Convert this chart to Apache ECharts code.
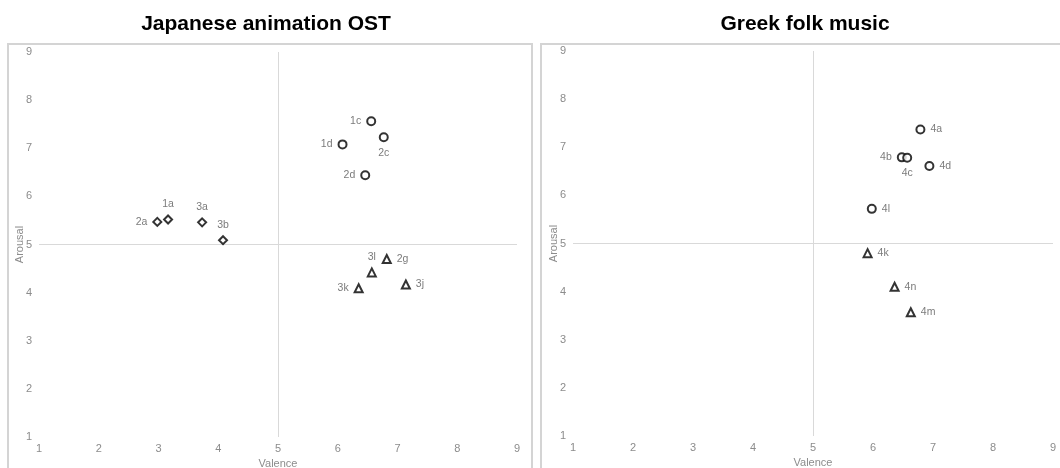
<!DOCTYPE html>
<html>
<head>
<meta charset="utf-8">
<script src="https://cdn.jsdelivr.net/npm/echarts@6/dist/echarts.min.js"></script>
<style>
  html, body { margin: 0; padding: 0; background: #fff; }
  #chart { width: 1060px; height: 468px; }
</style>
</head>
<body>
<div id="chart"></div>
<script>
// Valence / arousal ratings per excerpt, grouped by marker shape.
// Japanese animation OST
const animeDiamondNames = ['1a', '2a', '3a', '3b'];
const animeDiamondValence = [3.16, 2.98, 3.73, 4.08];
const animeDiamondArousal = [5.52, 5.47, 5.46, 5.09];

const animeCircleNames = ['1c', '2c', '1d', '2d'];
const animeCircleValence = [6.56, 6.77, 6.08, 6.46];
const animeCircleArousal = [7.56, 7.23, 7.08, 6.44];

const animeTriangleNames = ['2g', '3l', '3k', '3j'];
const animeTriangleValence = [6.82, 6.57, 6.35, 7.14];
const animeTriangleArousal = [4.70, 4.42, 4.09, 4.17];

// Greek folk music
const greekCircleNames = ['4a', '4b', '4c', '4d', '4l'];
const greekCircleValence = [6.79, 6.48, 6.57, 6.94, 5.98];
const greekCircleArousal = [7.37, 6.79, 6.78, 6.61, 5.72];

const greekTriangleNames = ['4k', '4n', '4m'];
const greekTriangleValence = [5.91, 6.36, 6.63];
const greekTriangleArousal = [4.80, 4.10, 3.57];

const tickValues = [1, 2, 3, 4, 5, 6, 7, 8, 9];
const panelTitles = ['Japanese animation OST', 'Greek folk music'];
const xAxisName = 'Valence';
const yAxisName = 'Arousal';
const midpoint = 5;

// where each point's name sits relative to its marker
const labelSide = {
  '1a': 'top', '2a': 'left', '3a': 'top', '3b': 'top',
  '1c': 'left', '2c': 'bottom', '1d': 'left', '2d': 'left',
  '2g': 'right', '3l': 'top', '3k': 'left', '3j': 'right',
  '4a': 'right', '4b': 'left', '4c': 'bottom', '4d': 'right', '4l': 'right',
  '4k': 'right', '4n': 'right', '4m': 'right'
};

const FONT = '"Liberation Sans", Arial, sans-serif';
const labelColor = '#595959';
const tickColor = '#8c8c8c';

function points(names, xs, ys) {
  return names.map((n, i) => ({
    name: n,
    value: [xs[i], ys[i]],
    label: { position: labelSide[n] }
  }));
}

function scatter(idx, names, xs, ys, symbol, size) {
  return {
    type: 'scatter',
    xAxisIndex: idx,
    yAxisIndex: idx,
    symbol: symbol,
    symbolSize: size,
    itemStyle: { color: '#fff', borderColor: '#000', borderWidth: 2 },
    label: {
      show: true,
      formatter: '{b}',
      color: labelColor,
      fontFamily: FONT,
      fontSize: 10.5,
      distance: 5
    },
    emphasis: { disabled: true },
    data: points(names, xs, ys),
    z: 5
  };
}

function crossLines(idx) {
  return {
    type: 'scatter',
    xAxisIndex: idx,
    yAxisIndex: idx,
    data: [],
    markLine: {
      silent: true,
      symbol: 'none',
      label: { show: false },
      lineStyle: { color: '#d9d9d9', width: 1, type: 'solid' },
      data: [{ xAxis: midpoint }, { yAxis: midpoint }]
    },
    z: 1
  };
}

function xAxis(idx) {
  return {
    gridIndex: idx,
    type: 'value',
    min: tickValues[0],
    max: tickValues[tickValues.length - 1],
    interval: 1,
    axisLine: { show: false },
    axisTick: { show: false },
    splitLine: { show: false },
    axisLabel: { color: tickColor, fontFamily: FONT, fontSize: 11, margin: 6 },
    name: xAxisName,
    nameLocation: 'middle',
    nameGap: 21,
    nameMoveOverlap: false,
    nameTextStyle: { color: tickColor, fontFamily: FONT, fontSize: 11 }
  };
}

function yAxis(idx) {
  return {
    gridIndex: idx,
    type: 'value',
    min: tickValues[0],
    max: tickValues[tickValues.length - 1],
    interval: 1,
    axisLabel: { color: tickColor, fontFamily: FONT, fontSize: 11, margin: 7 },
    axisLine: { show: false },
    axisTick: { show: false },
    splitLine: { show: false },
    name: yAxisName,
    nameLocation: 'middle',
    nameGap: 14,
    nameMoveOverlap: false,
    nameTextStyle: { color: tickColor, fontFamily: FONT, fontSize: 11 }
  };
}

const chart = echarts.init(document.getElementById('chart'), null, { renderer: 'canvas' });

const titleStyle = { fontFamily: FONT, fontSize: 21, fontWeight: 'bold', color: '#000' };

chart.setOption({
  animation: false,
  backgroundColor: '#fff',
  title: [
    { text: panelTitles[0], left: 261, top: 9, textAlign: 'center', textStyle: titleStyle },
    { text: panelTitles[1], left: 800, top: 9, textAlign: 'center', textStyle: titleStyle }
  ],
  graphic: [
    { type: 'rect', shape: { x: 8, y: 44, width: 524, height: 440 },
      style: { fill: 'none', stroke: '#d4d4d4', lineWidth: 2 }, silent: true },
    { type: 'rect', shape: { x: 541, y: 44, width: 540, height: 440 },
      style: { fill: 'none', stroke: '#d4d4d4', lineWidth: 2 }, silent: true }
  ],
  grid: [
    { left: 39, right: 543, top: 52, bottom: 31, outerBoundsMode: 'none' },
    { left: 573, right: 7, top: 51, bottom: 32, outerBoundsMode: 'none' }
  ],
  xAxis: [xAxis(0), xAxis(1)],
  yAxis: [yAxis(0), yAxis(1)],
  series: [
    crossLines(0),
    crossLines(1),
    scatter(0, animeDiamondNames, animeDiamondValence, animeDiamondArousal, 'diamond', 8),
    scatter(0, animeCircleNames, animeCircleValence, animeCircleArousal, 'circle', 8),
    scatter(0, animeTriangleNames, animeTriangleValence, animeTriangleArousal, 'triangle', 8),
    scatter(1, greekCircleNames, greekCircleValence, greekCircleArousal, 'circle', 8),
    scatter(1, greekTriangleNames, greekTriangleValence, greekTriangleArousal, 'triangle', 8)
  ]
});
</script>
</body>
</html>
